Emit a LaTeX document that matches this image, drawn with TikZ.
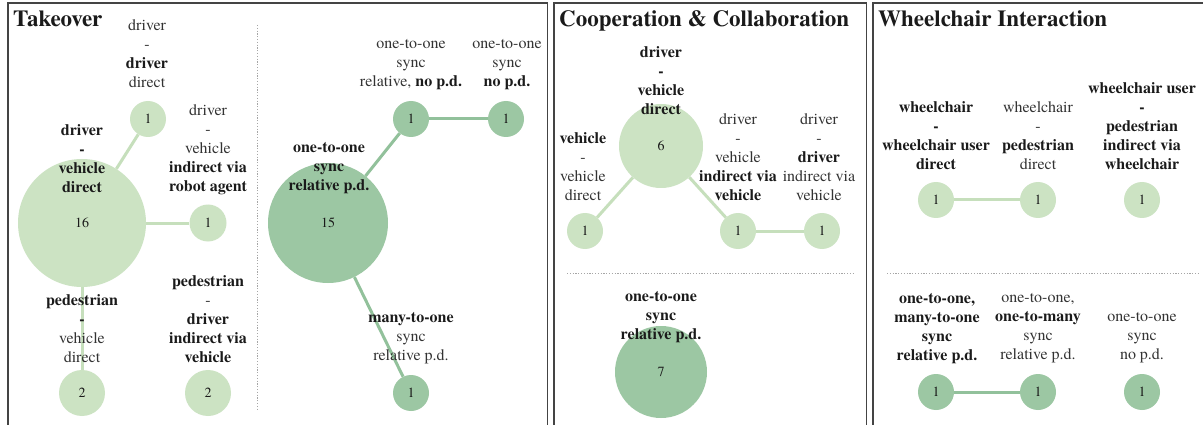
\documentclass[tikz,border=0pt]{standalone}
\usepackage{fontspec}
\IfFontExistsTF{TeX Gyre Termes}
  {\setmainfont{TeX Gyre Termes}}
  {\setmainfont{Liberation Serif}}
\definecolor{lightgreen}{HTML}{CCE3C3}
\definecolor{darkgreen}{HTML}{9CC7A3}
\definecolor{lightedge}{HTML}{C6DFBC}
\definecolor{darkedge}{HTML}{92C19B}
\definecolor{txtgray}{HTML}{333333}
\definecolor{txtdark}{HTML}{1A1A1A}
\definecolor{framegray}{HTML}{444444}
\tikzset{
  panel/.style={draw=framegray, line width=1.3pt},
  divider/.style={draw=gray!70, line width=0.8pt, dash pattern=on 1.2pt off 1.6pt},
  title/.style={anchor=base west, inner sep=0pt, text=txtdark, font=\fontsize{23}{27}\selectfont\bfseries},
  lbl/.style={align=center, inner sep=0pt, text=txtgray, font=\fontsize{16}{19}\selectfont},
  bub/.style={circle, inner sep=0pt, minimum size=#1, text=txtdark, font=\fontsize{14}{16}\selectfont},
  lightbub/.style={bub=#1, fill=lightgreen},
  darkbub/.style={bub=#1, fill=darkgreen},
  lightlink/.style={draw=lightedge, line width=3pt},
  darklink/.style={draw=darkedge, line width=3pt},
}
\newcommand{\B}[1]{\textbf{\color{txtdark}#1}}
\begin{document}
\begin{tikzpicture}[x=1pt, y=-1pt]
\useasboundingbox (0,0) rectangle (1203,425);
\clip (0,0) rectangle (1203,425);
\fill[white] (0,0) rectangle (1203,425);

% panel frames
\draw[panel] (8,440) -- (8,3) -- (547.5,3) -- (547.5,440);
\draw[panel] (554,440) -- (554,3) -- (866.5,3) -- (866.5,440);
\draw[panel] (873,440) -- (873,3) -- (1215,3);

% dotted separators
\draw[divider] (257,25) -- (257,410);
\draw[divider] (567,273) -- (855,273);
\draw[divider] (887,273) -- (1200,273);

% titles
\node[title] (t1) at (13,27) {Takeover};
\node[title] (t2) at (559,27) {Cooperation \& Collaboration};
\node[title] (t3) at (878,27) {Wheelchair Interaction};

% ---- Takeover: interaction partners ----
\node[lightbub=128pt] (a16) at (82,223) {16};
\node[lightbub=36pt]  (a1t) at (148,119) {1};
\node[lightbub=37pt]  (a1r) at (208,223) {1};
\node[lightbub=46pt]  (a2l) at (82,393) {2};
\node[lightbub=46pt]  (a2r) at (208,393) {2};
\draw[lightlink] (a16) -- (a1t);
\draw[lightlink] (a16) -- (a1r);
\draw[lightlink] (a16) -- (a2l);

\node[lbl] (la1) at (147,54) {driver\\-\\\B{driver}\\direct};
\node[lbl] (la2) at (82,159) {\B{driver}\\\B{-}\\\B{vehicle}\\\B{direct}};
\node[lbl] (la3) at (208,149.5) {driver\\-\\vehicle\\\B{indirect via}\\\B{robot agent}};
\node[lbl] (la4) at (82,328.5) {\B{pedestrian}\\\B{-}\\vehicle\\direct};
\node[lbl] (la5) at (208,319) {\B{pedestrian}\\-\\\B{driver}\\\B{indirect via}\\\B{vehicle}};

% ---- Takeover: communication ----
\node[darkbub=120pt] (b15)  at (328,223) {15};
\node[darkbub=36pt]  (b1t)  at (411,119) {1};
\node[darkbub=36pt]  (b1tr) at (506,119) {1};
\node[darkbub=36pt]  (b1b)  at (411,393) {1};
\draw[darklink] (b15) -- (b1t);
\draw[darklink] (b1t) -- (b1tr);
\draw[darklink] (b15) -- (b1b);

\node[lbl] (lb1) at (411,64.5) {one-to-one\\sync\\relative, \B{no p.d.}};
\node[lbl] (lb2) at (507,64.5) {one-to-one\\sync\\\B{no p.d.}};
\node[lbl] (lb3) at (329,168.5) {\B{one-to-one}\\\B{sync}\\\B{relative p.d.}};
\node[lbl] (lb4) at (411,338.5) {\B{many-to-one}\\sync\\relative p.d.};

% ---- Cooperation & Collaboration ----
\node[lightbub=84pt] (c6)  at (661,146) {6};
\node[lightbub=36pt] (c1l) at (585,231) {1};
\node[lightbub=36pt] (c1m) at (738,231) {1};
\node[lightbub=36pt] (c1r) at (822,231) {1};
\draw[lightlink] (c6) -- (c1l);
\draw[lightlink] (c6) -- (c1m);
\draw[lightlink] (c1m) -- (c1r);

\node[lbl] (lc1) at (661,81) {\B{driver}\\\B{-}\\\B{vehicle}\\\B{direct}};
\node[lbl] (lc2) at (583,167) {\B{vehicle}\\-\\vehicle\\direct};
\node[lbl] (lc3) at (738,157.5) {driver\\-\\vehicle\\\B{indirect via}\\\B{vehicle}};
\node[lbl] (lc4) at (819,157.5) {driver\\-\\\B{driver}\\indirect via\\vehicle};

\node[darkbub=92pt] (c7) at (661,372) {7};
\node[lbl] (lc5) at (661,317.5) {\B{one-to-one}\\\B{sync}\\\B{relative p.d.}};

% ---- Wheelchair Interaction ----
\node[lightbub=36pt] (d1) at (936,200) {1};
\node[lightbub=36pt] (d2) at (1038,200) {1};
\node[lightbub=36pt] (d3) at (1142,200) {1};
\draw[lightlink] (d1) -- (d2);

\node[lbl] (ld1) at (936,136) {\B{wheelchair}\\\B{-}\\\B{wheelchair user}\\\B{direct}};
\node[lbl] (ld2) at (1038,136) {wheelchair\\-\\\B{pedestrian}\\direct};
\node[lbl] (ld3) at (1142,126.5) {\B{wheelchair user}\\\B{-}\\\B{pedestrian}\\\B{indirect via}\\\B{wheelchair}};

\node[darkbub=36pt] (e1) at (936,392) {1};
\node[darkbub=36pt] (e2) at (1038,392) {1};
\node[darkbub=36pt] (e3) at (1142,392) {1};
\draw[darklink] (e1) -- (e2);

\node[lbl] (le1) at (937,328.5) {\B{one-to-one,}\\\B{many-to-one}\\\B{sync}\\\B{relative p.d.}};
\node[lbl] (le2) at (1038,328.5) {one-to-one,\\\B{one-to-many}\\sync\\relative p.d.};
\node[lbl] (le3) at (1142,338) {one-to-one\\sync\\no p.d.};
\end{tikzpicture}
\end{document}
